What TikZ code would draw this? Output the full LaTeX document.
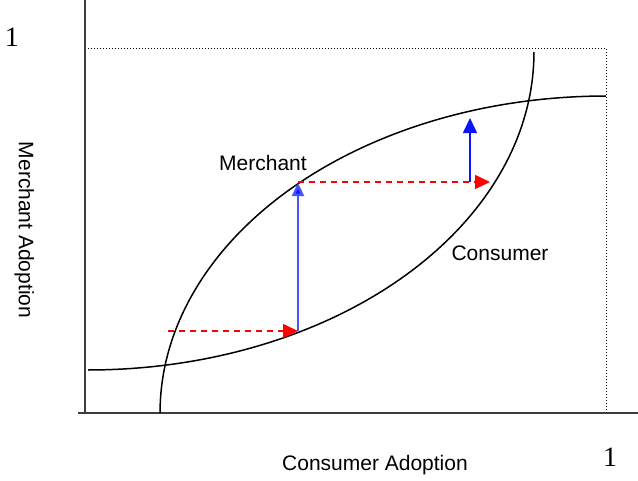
\documentclass[tikz,border=0pt]{standalone}
\usepackage{fontspec}
\setmainfont{Liberation Sans}
\newfontfamily\numfont{Liberation Serif}
\usetikzlibrary{arrows.meta}
\definecolor{redarrow}{RGB}{255,0,0}
\definecolor{bluearrowA}{RGB}{70,85,255}
\definecolor{bluearrowB}{RGB}{10,20,255}
\definecolor{axisgray}{RGB}{60,60,60}
\tikzset{
  lbl/.style={font=\fontsize{21}{24}\selectfont, inner sep=0pt, anchor=base},
  numlbl/.style={font=\numfont\fontsize{28}{32}\selectfont, inner sep=0pt, anchor=base},
  axisline/.style={draw=axisgray, line width=1.8pt},
  curveline/.style={draw=black, line width=1.5pt},
  boxline/.style={draw=black, line width=1pt, dash pattern=on 1pt off 2pt},
  redstep/.style={draw=redarrow, line width=1.5pt, dash pattern=on 6pt off 5pt,
    -{Triangle[length=15pt,width=14pt,fill=redarrow]}},
  bluestepA/.style={draw=bluearrowA, line width=2.4pt,
    -{Triangle[length=13pt,width=12pt,fill=bluearrowB]}},
  bluestepB/.style={draw=bluearrowB, line width=1.6pt,
    -{Triangle[length=15pt,width=14pt,fill=bluearrowB]}}
}
\begin{document}
\begin{tikzpicture}[x=1pt,y=-1pt]
\useasboundingbox (0,0) rectangle (638,480);
% axes
\coordinate (ytop) at (85,0);
\coordinate (origin) at (85,413);
\coordinate (xstart) at (78,413);
\coordinate (xend) at (638,413);
\draw[axisline] (ytop) -- (origin);
\draw[axisline] (xstart) -- (xend);
% dotted box
\coordinate (bl) at (88,48);
\coordinate (br) at (606,48);
\coordinate (bb) at (606,413);
\draw[boxline] (bl) -- (br) -- (bb);
% merchant curve (concave)
\draw[curveline] plot[domain=0:90, samples=80, variable=\t] ({606-446*cos(\t)}, {413-317*sin(\t)});
% consumer curve (convex)
\draw[curveline] plot[domain=0:90, samples=80, variable=\t] ({88+446*sin(\t)}, {52+318*cos(\t)});
% arrows
\coordinate (p0) at (168,331);
\coordinate (p1) at (298,331);
\coordinate (p2) at (298,183);
\coordinate (p2b) at (298,182);
\coordinate (p3) at (490,182);
\coordinate (p4) at (470,182);
\coordinate (p5) at (470,118);
\draw[redstep] (p0) -- (p1);
\draw[bluestepA] (p1) -- (p2);
\draw[redstep] (p2b) -- (p3);
\draw[bluestepB] (p4) -- (p5);
% labels
\node[lbl] (merchant) at (263,170) {Merchant};
\node[lbl] (consumer) at (500,260) {Consumer};
\node[lbl] (xlabel) at (375,470) {Consumer Adoption};
\node[lbl, rotate=-90] (ylabel) at (19,230) {Merchant Adoption};
\node[numlbl] (yone) at (12,46) {1};
\node[numlbl] (xone) at (610,466) {1};
\end{tikzpicture}
\end{document}
